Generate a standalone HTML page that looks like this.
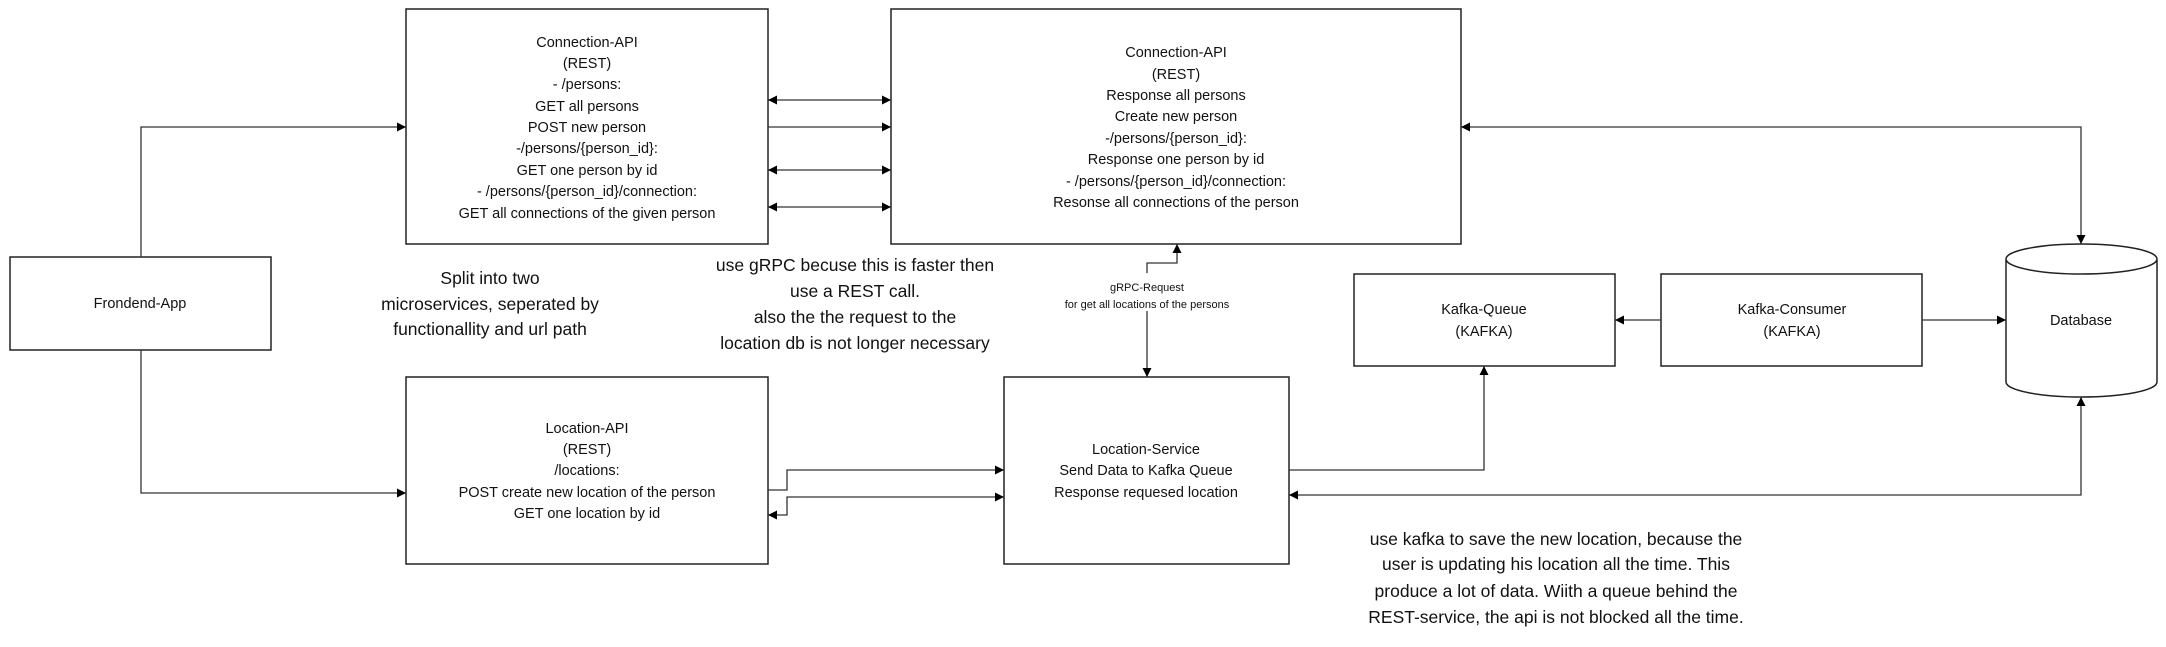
<!DOCTYPE html>
<html><head><meta charset="utf-8"><style>
html,body{margin:0;padding:0;background:#fff;}
svg{display:block;}
text{font-family:"Liberation Sans",sans-serif;fill:#111;}
.b{font-size:14.5px;}
.big{font-size:17.5px;}
.sm{font-size:11px;}
</style></head><body>
<svg width="2166" height="647" viewBox="0 0 2166 647" xmlns="http://www.w3.org/2000/svg">
<defs>
<marker id="a" viewBox="0 0 10 10" refX="10" refY="5" markerWidth="9" markerHeight="9" markerUnits="userSpaceOnUse" orient="auto-start-reverse">
<path d="M0,0 L10,5 L0,10 z" fill="#000"/></marker>
</defs>
<g fill="#fff" stroke="#222" stroke-width="1.5">
<rect x="10" y="257" width="261" height="93"/>
<rect x="406" y="9" width="362" height="235"/>
<rect x="891" y="9" width="570" height="235"/>
<rect x="406" y="377" width="362" height="187"/>
<rect x="1004" y="377" width="285" height="187"/>
<rect x="1354" y="274" width="261" height="92"/>
<rect x="1661" y="274" width="261" height="92"/>
<path d="M2006,259 L2006,382 A75.5,15 0 0 0 2157,382 L2157,259 A75.5,15 0 0 0 2006,259 A75.5,15 0 0 0 2157,259"/>
</g>
<g fill="none" stroke="#333" stroke-width="1.3">
<path d="M141,257 V127 H406" marker-end="url(#a)"/>
<path d="M141,350 V493 H406" marker-end="url(#a)"/>
<path d="M768,100 H891" marker-start="url(#a)" marker-end="url(#a)"/>
<path d="M768,127 H891" marker-end="url(#a)"/>
<path d="M768,170 H891" marker-start="url(#a)" marker-end="url(#a)"/>
<path d="M768,207 H891" marker-start="url(#a)" marker-end="url(#a)"/>
<path d="M1461,127 H2081 V244" marker-start="url(#a)" marker-end="url(#a)"/>
<path d="M1147,281 V263 H1177 V244" marker-end="url(#a)"/>
<path d="M1147,311 V377" marker-end="url(#a)"/>
<path d="M768,490 H787 V470 H1004" marker-end="url(#a)"/>
<path d="M1004,497 H787 V515 H768" marker-start="url(#a)" marker-end="url(#a)"/>
<path d="M1289,470 H1484 V366" marker-end="url(#a)"/>
<path d="M1661,320 H1615" marker-end="url(#a)"/>
<path d="M1922,320 H2006" marker-end="url(#a)"/>
<path d="M1289,495 H2081 V397" marker-start="url(#a)" marker-end="url(#a)"/>
</g>
<g text-anchor="middle" class="b">
<text x="140" y="308">Frondend-App</text>
<text x="587" y="47">Connection-API</text>
<text x="587" y="68">(REST)</text>
<text x="587" y="89">- /persons:</text>
<text x="587" y="111">GET all persons</text>
<text x="587" y="132">POST new person</text>
<text x="587" y="153">-/persons/{person_id}:</text>
<text x="587" y="175">GET one person by id</text>
<text x="587" y="196">- /persons/{person_id}/connection:</text>
<text x="587" y="218">GET all connections of the given person</text>
<text x="1176" y="57">Connection-API</text>
<text x="1176" y="79">(REST)</text>
<text x="1176" y="100">Response all persons</text>
<text x="1176" y="121">Create new person</text>
<text x="1176" y="143">-/persons/{person_id}:</text>
<text x="1176" y="164">Response one person by id</text>
<text x="1176" y="186">- /persons/{person_id}/connection:</text>
<text x="1176" y="207">Resonse all connections of the person</text>
<text x="587" y="433">Location-API</text>
<text x="587" y="454">(REST)</text>
<text x="587" y="475">/locations:</text>
<text x="587" y="497">POST create new location of the person</text>
<text x="587" y="518">GET one location by id</text>
<text x="1146" y="454">Location-Service</text>
<text x="1146" y="475">Send Data to Kafka Queue</text>
<text x="1146" y="497">Response requesed location</text>
<text x="1484" y="314">Kafka-Queue</text>
<text x="1484" y="336">(KAFKA)</text>
<text x="1792" y="314">Kafka-Consumer</text>
<text x="1792" y="336">(KAFKA)</text>
<text x="2081" y="325">Database</text>
</g>
<rect x="1048" y="273" width="198" height="36" fill="#fff"/>
<g text-anchor="middle" class="sm">
<text x="1147" y="291">gRPC-Request</text>
<text x="1147" y="308">for get all locations of the persons</text>
</g>
<g text-anchor="middle" class="big">
<text x="490" y="284">Split into two</text>
<text x="490" y="310">microservices, seperated by</text>
<text x="490" y="335">functionallity and url path</text>
<text x="855" y="271">use gRPC becuse this is faster then</text>
<text x="855" y="297">use a REST call.</text>
<text x="855" y="323">also the the request to the</text>
<text x="855" y="349">location db is not longer necessary</text>
<text x="1556" y="545">use kafka to save the new location, because the</text>
<text x="1556" y="570">user is updating his location all the time. This</text>
<text x="1556" y="597">produce a lot of data. Wiith a queue behind the</text>
<text x="1556" y="623">REST-service, the api is not blocked all the time.</text>
</g>
</svg>
</body></html>
